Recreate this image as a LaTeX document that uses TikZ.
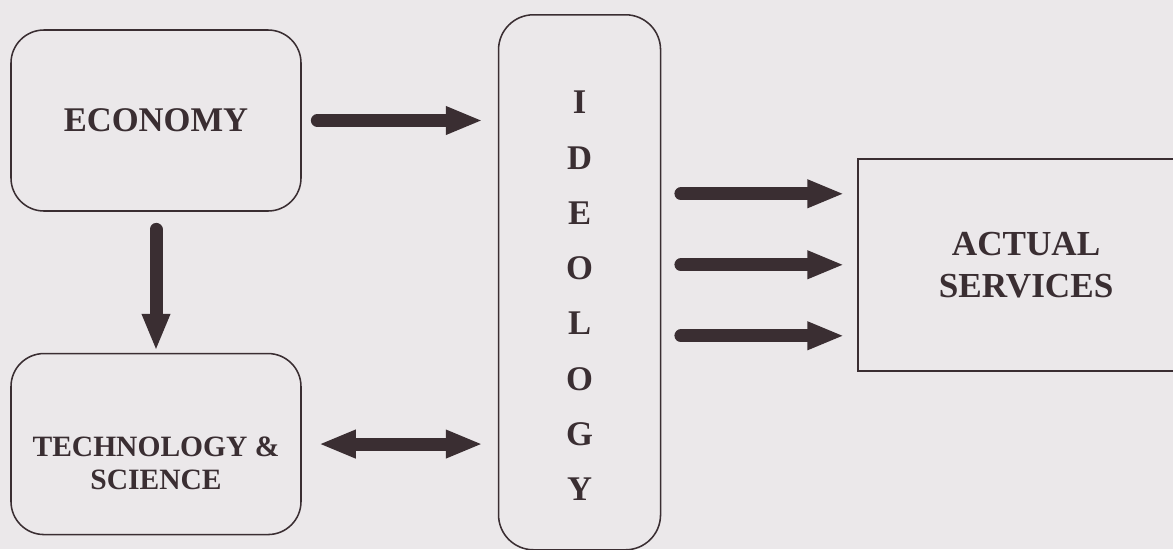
\documentclass[tikz,border=0pt]{standalone}
\usepackage{fontspec}
\setmainfont{Liberation Serif}
\usetikzlibrary{positioning,arrows.meta,calc}
\definecolor{paper}{RGB}{235,232,234}
\definecolor{ink}{RGB}{58,46,50}

\begin{document}
\begin{tikzpicture}
\tikzstyle{rbox}=[rectangle, rounded corners=0.825cm, draw=ink, line width=1.1pt, text=ink, align=center, font=\bfseries\fontsize{24.6}{30}\selectfont, minimum width=7.25cm, minimum height=4.525cm]
\tikzstyle{sbox}=[rectangle, draw=ink, line width=1.1pt, text=ink, align=center, font=\bfseries\fontsize{25}{29.8}\selectfont, minimum width=8.4cm, minimum height=5.3cm]
\tikzstyle{label}=[text=ink, align=center]
\tikzstyle{connect}=[draw=ink, line width=0.325cm, line cap=round, -{Triangle[length=0.925cm, width=0.65cm]}]
\tikzstyle{both}=[connect, {Triangle[length=0.925cm, width=0.65cm]}-{Triangle[length=0.925cm, width=0.65cm]}]
  \useasboundingbox (0,0) rectangle (29.325,-13.725);
  \fill[paper] (0,0) rectangle (29.325,-13.725);
  \clip (0,0) rectangle (29.325,-13.725);
  \node[rbox] (econ) at (3.9,-3.0125) {ECONOMY};
  \node[rbox] (tech) [below=3.525cm of econ] {};
  \node[label, font=\bfseries\fontsize{21}{23.5}\selectfont] (techtext) at ([yshift=-0.475cm]tech.center) {TECHNOLOGY \&\\SCIENCE};
  \coordinate (mid) at ($(econ.east)!0.5!(tech.east)$);
  \node[rbox, rounded corners=0.875cm, minimum width=4.05cm, minimum height=13.375cm] (ideo) [right=4.9cm of mid] {};
  \node[label, font=\bfseries\fontsize{24.6}{39.3}\selectfont] (ideotext) at ([yshift=-0.34cm]ideo.center) {I\\D\\E\\O\\L\\O\\G\\Y};
  \node[sbox] (services) [right=4.9cm of ideo, yshift=0.4375cm] {ACTUAL\\SERVICES};
  \draw[connect, shorten <=0.39cm, shorten >=0.375cm] (econ.east) -- (econ.east -| ideo.west);
  \draw[connect, shorten <=0.44cm, shorten >=0.05cm] (econ.south) -- (tech.north);
  \draw[both, shorten <=0.425cm, shorten >=0.375cm] (tech.east) -- (tech.east -| ideo.west);
  % three arrows into the services box
  \foreach \i/\d in {1/1.775, 2/0, 3/-1.775}
    \coordinate (s\i) at ([yshift=\d cm]services.west);
  \foreach \i in {1,2,3}
    \draw[connect, shorten <=0.49cm, shorten >=0.325cm] (s\i -| ideo.east) -- (s\i);
\end{tikzpicture}
\end{document}
